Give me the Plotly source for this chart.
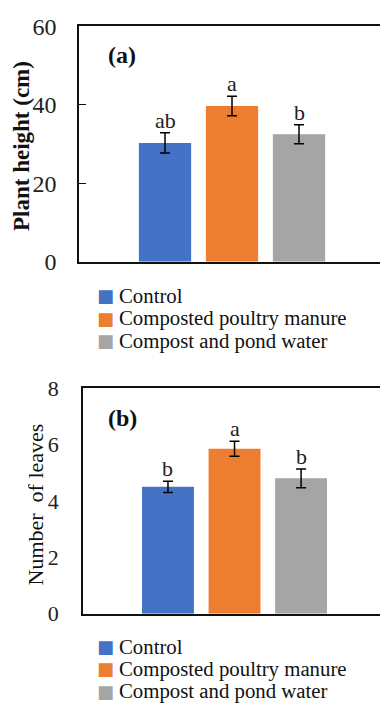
import plotly.graph_objects as go

categories = ["Control", "Composted poultry manure", "Compost and pond water"]
colors = ["#4472C4", "#ED7D31", "#A5A5A5"]

height_vals = [30.3, 39.7, 32.5]
height_err = [2.6, 2.5, 2.4]
height_letters = ["ab", "a", "b"]

leaves_vals = [4.5, 5.85, 4.8]
leaves_err = [0.2, 0.27, 0.33]
leaves_letters = ["b", "a", "b"]

height_ticks = [0, 20, 40, 60]
leaves_ticks = [0, 2, 4, 6, 8]

W, H = 380, 716
SERIF = "Liberation Serif"

def px_x(p):
    return p / W

def px_y(p):
    return 1 - p / H

fig = go.Figure()

fig.add_trace(go.Bar(
    x=categories, y=height_vals, marker=dict(color=colors, line=dict(width=0)),
    error_y=dict(type="data", array=height_err, color="black", thickness=1.5, width=5),
    xaxis="x", yaxis="y", showlegend=False,
))
fig.add_trace(go.Bar(
    x=categories, y=leaves_vals, marker=dict(color=colors, line=dict(width=0)),
    error_y=dict(type="data", array=leaves_err, color="black", thickness=1.5, width=5),
    xaxis="x2", yaxis="y2", showlegend=False,
))

annotations = []
for c, v, e, t in zip(categories, height_vals, height_err, height_letters):
    annotations.append(dict(x=c, y=v + e, xref="x", yref="y", text=t, showarrow=False,
                            yanchor="bottom", yshift=-2, font=dict(family=SERIF, size=22, color="#222")))
for c, v, e, t in zip(categories, leaves_vals, leaves_err, leaves_letters):
    annotations.append(dict(x=c, y=v + e, xref="x2", yref="y2", text=t, showarrow=False,
                            yanchor="bottom", yshift=-2, font=dict(family=SERIF, size=22, color="#222")))

# panel labels
annotations.append(dict(x=px_x(106), y=px_y(44), xref="paper", yref="paper", text="<b>(a)</b>",
                        showarrow=False, xanchor="left", yanchor="middle",
                        font=dict(family=SERIF, size=24, color="#111")))
annotations.append(dict(x=px_x(106), y=px_y(420), xref="paper", yref="paper", text="<b>(b)</b>",
                        showarrow=False, xanchor="left", yanchor="middle",
                        font=dict(family=SERIF, size=24, color="#111")))

# axis titles
annotations.append(dict(x=px_x(22), y=px_y(138), xref="paper", yref="paper", text="<b>Plant height (cm)</b>",
                        showarrow=False, textangle=-90, xanchor="center", yanchor="middle",
                        font=dict(family=SERIF, size=23, color="#111")))
annotations.append(dict(x=px_x(35), y=px_y(510), xref="paper", yref="paper", text="Number  of leaves",
                        showarrow=False, textangle=-90, xanchor="center", yanchor="middle",
                        font=dict(family=SERIF, size=22, color="#111")))

# manual legends
for rows in ([293, 316.5, 340], [657, 680.5, 704]):
    for c, col, ry in zip(categories, colors, rows):
        annotations.append(dict(x=px_x(116), y=px_y(ry), xref="paper", yref="paper", text="■",
                                showarrow=False, xanchor="right", yanchor="middle",
                                font=dict(family="DejaVu Sans", size=18, color=col)))
        annotations.append(dict(x=px_x(117), y=px_y(ry), xref="paper", yref="paper", text=c,
                                showarrow=False, xanchor="left", yanchor="middle",
                                font=dict(family=SERIF, size=20.8, color="#111")))

axis_common = dict(showgrid=False, zeroline=False)

fig.update_layout(
    width=W, height=H,
    margin=dict(l=0, r=0, t=0, b=0),
    paper_bgcolor="white", plot_bgcolor="white",
    font=dict(family=SERIF),
    bargap=0.22,
    xaxis=dict(domain=[px_x(79), 1], type="category", categoryorder="array", categoryarray=categories,
               range=[-1.284, 3.209], showticklabels=False, ticks="", showline=True, mirror=True,
               linecolor="#111", linewidth=1.5, anchor="y", **axis_common),
    yaxis=dict(domain=[px_y(258), px_y(14)], range=[0, 60], tickvals=height_ticks,
               ticks="inside", ticklen=7, tickwidth=1.2, tickcolor="#111", showline=True,
               linecolor="#111", linewidth=1.5,
               ticklabelstandoff=16, tickfont=dict(family=SERIF, size=24, color="#222"), anchor="x",
               **axis_common),
    xaxis2=dict(domain=[px_x(83), 1], type="category", categoryorder="array", categoryarray=categories,
                range=[-1.277, 3.186], showticklabels=False, ticks="", showline=True, mirror=True,
                linecolor="#111", linewidth=1.5, anchor="y2", **axis_common),
    yaxis2=dict(domain=[px_y(623.3), px_y(389.3)], range=[0, 8], tickvals=leaves_ticks,
                ticks="", showline=True, linecolor="#111", linewidth=1.5,
                ticklabelstandoff=18, tickfont=dict(family=SERIF, size=22, color="#222"), anchor="x2",
                **axis_common),
    annotations=annotations,
)

fig.write_html("out.html", config={"displayModeBar": False},
               post_script="document.body.style.margin='0';document.body.style.overflow='hidden';")
